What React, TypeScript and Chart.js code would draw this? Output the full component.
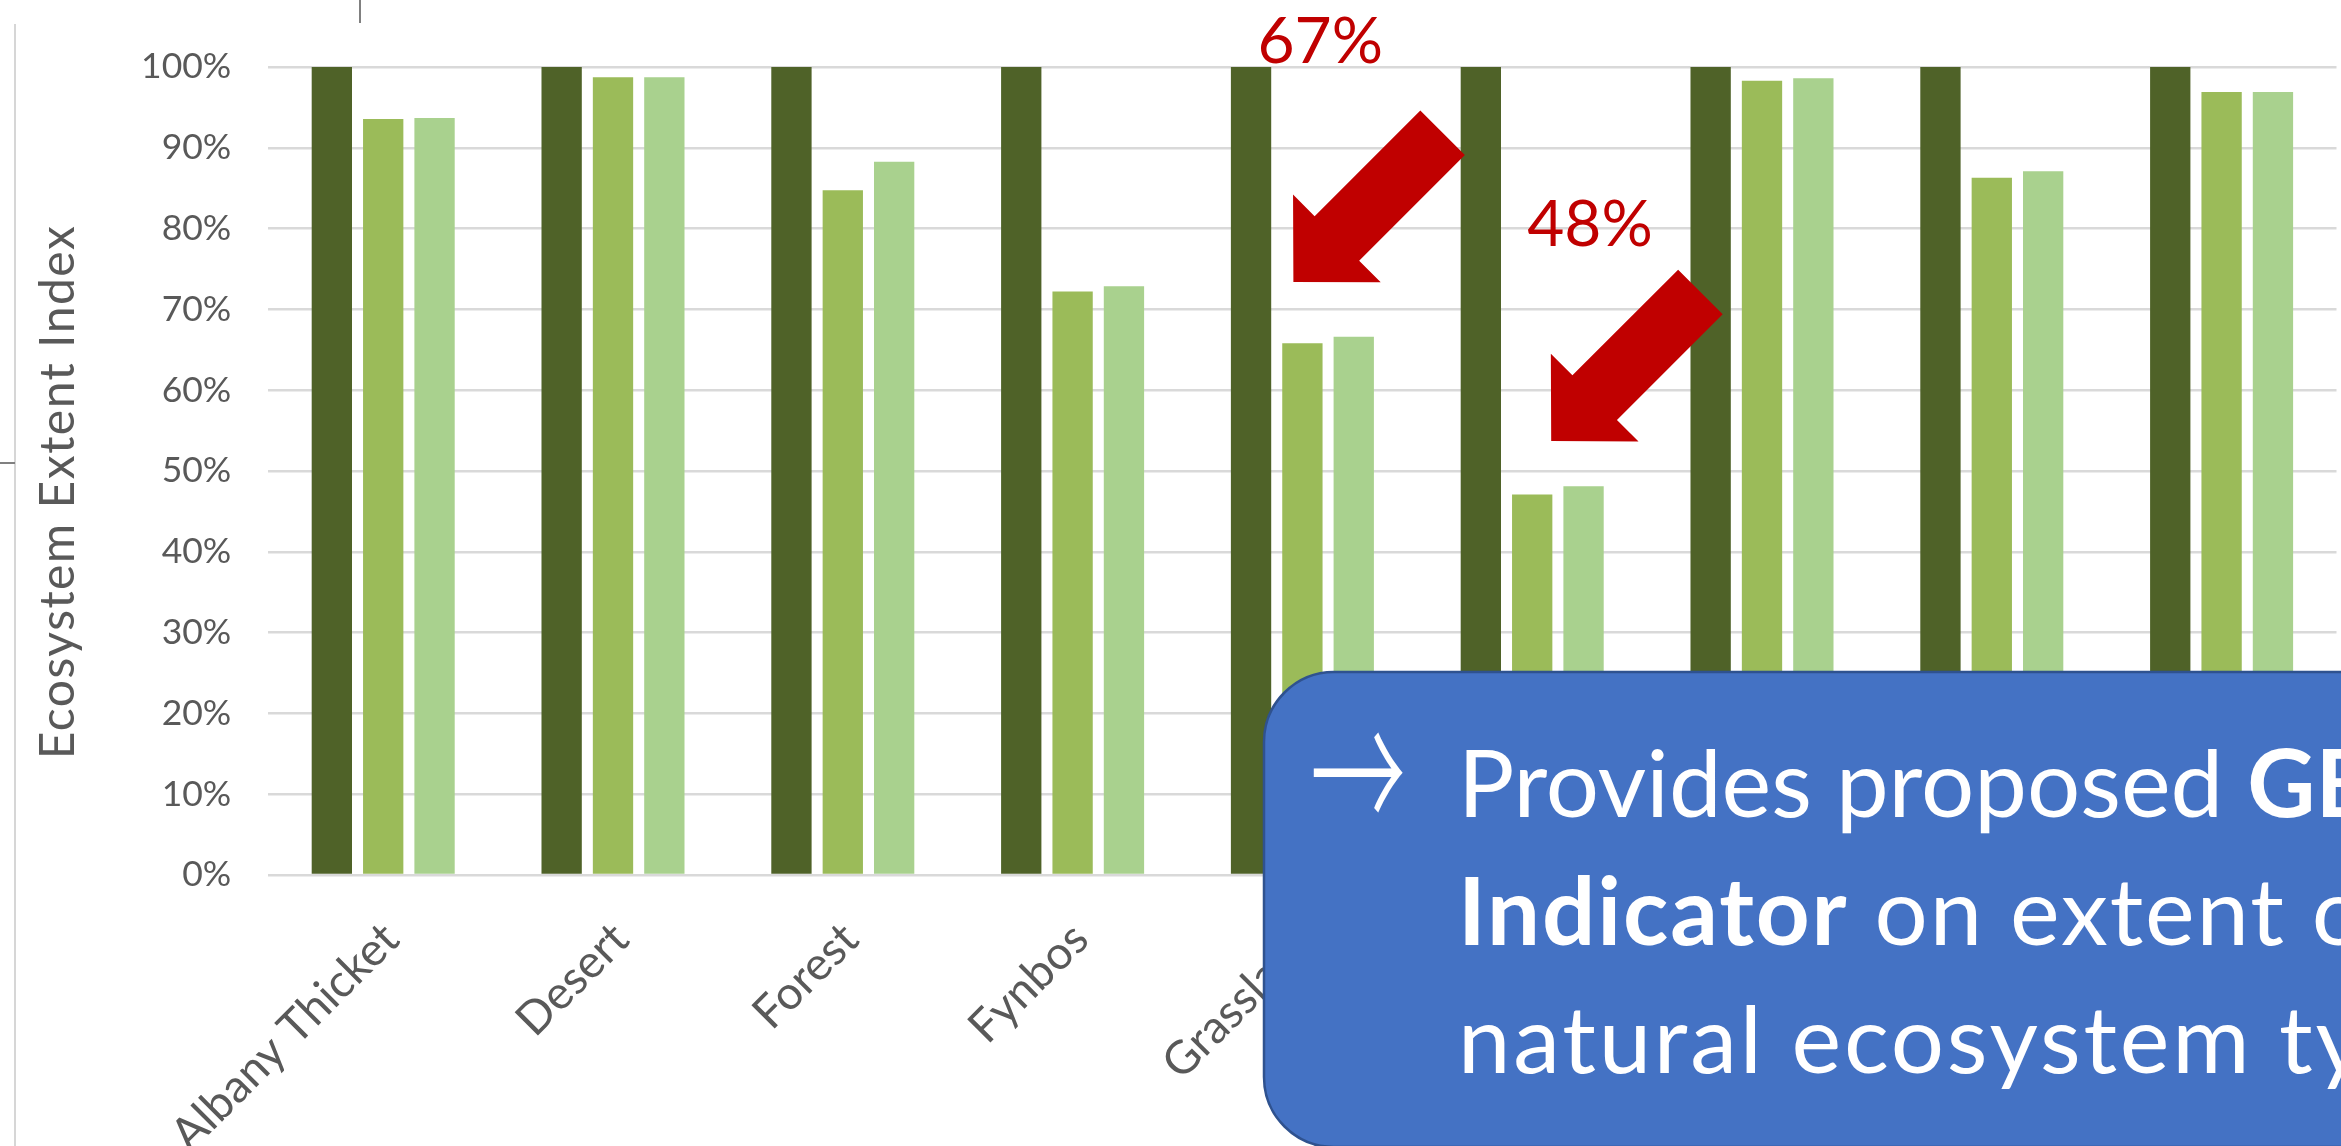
import React, { useEffect, useRef } from "react";
import { Chart, registerables } from "chart.js";

Chart.register(...registerables);

// Biomes of South Africa and their ecosystem extent index
const biomes = [
  "Albany Thicket",
  "Desert",
  "Forest",
  "Fynbos",
  "Grassland",
  "Indian Ocean Coastal Belt",
  "Nama-Karoo",
  "Savanna",
  "Succulent Karoo",
];
const naturalExtent = [1, 1, 1, 1, 1, 1, 1, 1, 1];
const extentEarlier = [0.9356, 0.9872, 0.8475, 0.7223, 0.658, 0.471, 0.983, 0.863, 0.969];
const extentLatest = [0.937, 0.9872, 0.8826, 0.7285, 0.666, 0.481, 0.986, 0.871, 0.969];
const seriesNames = ["Natural extent", "Earlier assessment", "Latest assessment"];
const yTickValues = [0, 0.1, 0.2, 0.3, 0.4, 0.5, 0.6, 0.7, 0.8, 0.9, 1.0];
// Biomes singled out with a callout (index into biomes)
const calloutBiomes = [4, 5];

const W = 2341;
const H = 1146;
const FONT = "Lato, 'Open Sans', sans-serif";
const GREY_TEXT = "#595959";
const RED = "#C00000";
const COLORS = ["#4F6228", "#9BBB59", "#A9D18E"];

// Callout placement relative to each biome's category pixel
const calloutLayout = [
  { tipDx: -9, tipValue: 0.734, labelDx: -45, labelValue: 1.005 },
  { tipDx: 19, tipValue: 0.537, labelDx: -5, labelValue: 0.778 },
];

function drawBlockArrow(ctx: CanvasRenderingContext2D, tx: number, ty: number) {
  // arrow pointing down-left; along = from tip toward tail, perp = across the shaft
  const a = [Math.SQRT1_2, -Math.SQRT1_2];
  const p = [Math.SQRT1_2, Math.SQRT1_2];
  const headLen = 61.5;
  const headHalf = 62;
  const shaftHalf = 31.5;
  const total = 211;
  const pts: [number, number][] = [
    [0, 0],
    [headLen, -headHalf],
    [headLen, -shaftHalf],
    [total, -shaftHalf],
    [total, shaftHalf],
    [headLen, shaftHalf],
    [headLen, headHalf],
  ];
  ctx.beginPath();
  pts.forEach(([al, pe], i) => {
    const x = tx + al * a[0] + pe * p[0];
    const y = ty + al * a[1] + pe * p[1];
    if (i === 0) ctx.moveTo(x, y);
    else ctx.lineTo(x, y);
  });
  ctx.closePath();
  ctx.fill();
}

const calloutPlugin = {
  id: "callouts",
  afterDraw(chart: any) {
    const { ctx, scales } = chart;
    const xs = scales.x;
    const ys = scales.y;
    ctx.save();
    ctx.fillStyle = RED;
    calloutBiomes.forEach((idx, k) => {
      const lay = calloutLayout[k];
      const cx = xs.getPixelForValue(idx);
      drawBlockArrow(ctx, cx + lay.tipDx, ys.getPixelForValue(lay.tipValue));
      ctx.font = `64px ${FONT}`;
      ctx.textAlign = "left";
      ctx.textBaseline = "alphabetic";
      const text = `${Math.round(extentLatest[idx] * 100)}%`;
      ctx.fillText(text, cx + lay.labelDx, ys.getPixelForValue(lay.labelValue));
    });
    ctx.restore();
  },
};

const yTitlePlugin = {
  id: "yTitle",
  afterDraw(chart: any) {
    const { ctx, chartArea } = chart;
    ctx.save();
    ctx.translate(74, (chartArea.top + chartArea.bottom) / 2 + 21);
    ctx.rotate(-Math.PI / 2);
    ctx.font = `48px ${FONT}`;
    (ctx as any).letterSpacing = "1.5px";
    ctx.fillStyle = GREY_TEXT;
    ctx.textAlign = "center";
    ctx.textBaseline = "alphabetic";
    ctx.fillText("Ecosystem Extent Index", 0, 0);
    ctx.restore();
  },
};

function ExtentChart() {
  const ref = useRef<HTMLCanvasElement | null>(null);

  useEffect(() => {
    if (!ref.current) return;
    const values = [naturalExtent, extentEarlier, extentLatest];
    const chart = new Chart(ref.current, {
      type: "bar",
      data: {
        labels: biomes,
        datasets: values.map((data, i) => ({
          label: seriesNames[i],
          data,
          backgroundColor: COLORS[i],
          borderWidth: 0,
          categoryPercentage: 0.6704,
          barPercentage: 0.785,
        })),
      },
      options: {
        responsive: false,
        animation: false,
        devicePixelRatio: 1,
        layout: { padding: { left: 0, right: 4.5, top: 67, bottom: 0 } },
        plugins: {
          legend: { display: false },
          tooltip: { enabled: false },
        },
        scales: {
          x: {
            grid: { display: false },
            border: { display: false },
            ticks: {
              autoSkip: false,
              maxRotation: 45,
              minRotation: 45,
              padding: 29,
              labelOffset: 8,
              color: GREY_TEXT,
              font: { family: FONT, size: 46 },
            },
            afterFit: (s: any) => {
              s.height = H - 875;
            },
          },
          y: {
            min: 0,
            max: 1,
            afterBuildTicks: (s: any) => {
              s.ticks = yTickValues.map((v) => ({ value: v }));
            },
            grid: { color: "#D9D9D9", lineWidth: 2.5, drawTicks: false },
            border: { display: false },
            ticks: {
              padding: 37,
              color: GREY_TEXT,
              font: { family: FONT, size: 35.5 },
              callback: (v: any) => `${Math.round(Number(v) * 100)}%`,
            },
            afterFit: (s: any) => {
              s.width = 268.3;
            },
          },
        },
      },
      plugins: [calloutPlugin, yTitlePlugin],
    });
    return () => chart.destroy();
  }, []);

  return <canvas ref={ref} width={W} height={H} style={{ display: "block", position: "absolute", left: 0, top: 0 }} />;
}

export default function App() {
  return (
    <div
      style={{
        position: "fixed",
        left: 0,
        top: 0,
        width: W,
        height: H,
        overflow: "hidden",
        background: "#ffffff",
      }}
    >
      <ExtentChart />
      <svg width={W} height={H} style={{ position: "absolute", left: 0, top: 0 }}>
        <line x1={15} y1={24} x2={15} y2={H} stroke="#C8C8C8" strokeWidth={1.5} />
        <line x1={360} y1={0} x2={360} y2={23} stroke="#808080" strokeWidth={2} />
        <line x1={0} y1={463} x2={15} y2={463} stroke="#808080" strokeWidth={2} />
        <rect x={1264} y={672} width={1400} height={475} rx={70} ry={70} fill="#4472C4" stroke="#2F528F" strokeWidth={2.5} />
        <g transform="translate(0 779) scale(1 1.8) translate(0 -779)">
          <text x={1310} y={812} fill="#ffffff" fontFamily="'Noto Sans CJK JP', 'DejaVu Sans', sans-serif" fontWeight={300} fontSize={96}>
            →
          </text>
        </g>
        <text fill="#ffffff" fontFamily={FONT} fontSize={94}>
          <tspan x={1458} y={817}>
            Provides proposed <tspan fontWeight={700}>GBF Headline</tspan>
          </tspan>
          <tspan x={1458} y={945} letterSpacing={1.9}>
            <tspan fontWeight={700}>Indicator</tspan> on extent of
          </tspan>
          <tspan x={1458} y={1073} letterSpacing={2.8}>
            natural ecosystem types
          </tspan>
        </text>
      </svg>
    </div>
  );
}
